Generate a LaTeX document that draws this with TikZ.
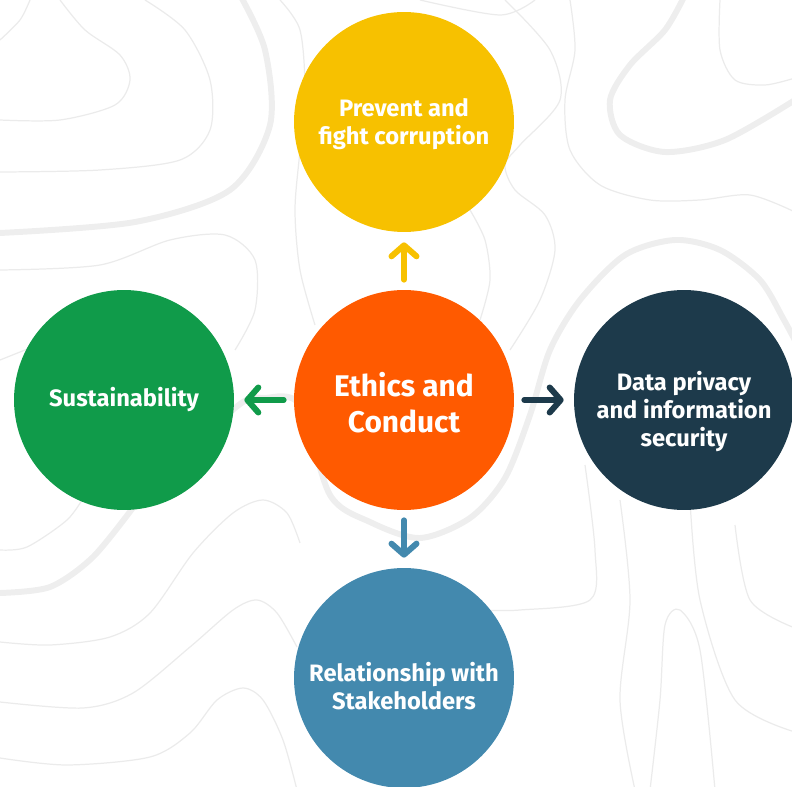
\documentclass[tikz,border=0pt]{standalone}
\usepackage{fontspec}
\setmainfont{Fira Sans}
\usetikzlibrary{arrows.meta}
\definecolor{ethOrange}{HTML}{FF5A00}
\definecolor{ethYellow}{HTML}{F7C100}
\definecolor{ethGreen}{HTML}{109B4A}
\definecolor{ethNavy}{HTML}{1D3A4B}
\definecolor{ethBlue}{HTML}{4389AE}
\definecolor{lineGrey}{HTML}{EBEBEB}
\definecolor{ridgeGrey}{HTML}{EEEEEE}
% centred lines with extra room on top, so they sit a little low in the circle
\newcommand\sunk[2]{\raisebox{0pt}[\dimexpr\height+#1\relax][\depth]{\begin{tabular}{@{}c@{}}#2\end{tabular}}}

\begin{document}
\begin{tikzpicture}[x=0.02cm,y=-0.02cm,
  topic/.style={circle,minimum size=4.4cm,inner sep=0pt,text=white,align=center,
    font=\bfseries\fontsize{13.5}{16}\selectfont},
  link/.style={line width=3.4pt,line cap=round,
    -{Straight Barb[round,length=2.2mm,width=5mm]},
    shorten <=0.2cm,shorten >=0.2cm},
  contour/.style={draw=lineGrey,line width=0.7pt},
  ridge/.style={draw=ridgeGrey,line width=3.4pt}
]
  \useasboundingbox (0,0) rectangle (792,787);
  \clip (0,0) rectangle (792,787);

  % background contour lines
  \draw[contour] plot[smooth] coordinates {(0,40) (20,20) (30,0)};
  \draw[contour] plot[smooth] coordinates {(60,0) (85,30) (120,55) (130,80) (115,105) (60,120) (0,120)};
  \draw[contour] plot[smooth] coordinates {(145,0) (185,30) (210,80) (210,130) (180,160) (100,170) (0,172)};
  \draw[ridge] plot[smooth] coordinates {(240,-5) (265,50) (270,125) (230,190) (135,222) (0,233)};
  \draw[contour] plot[smooth] coordinates {(0,270) (100,265) (170,240) (225,235) (255,260) (255,310) (235,350)};
  \draw[contour] plot[smooth] coordinates {(0,360) (30,348)};
  \draw[contour] plot[smooth] coordinates {(0,550) (27,547) (67,520) (85,495)};
  \draw[ridge] plot[smooth] coordinates {(0,593) (50,587) (93,557) (135,505)};
  \draw[contour] plot[smooth] coordinates {(0,642) (50,645) (110,637) (150,613) (193,553) (233,513) (263,500) (287,513) (300,543)};
  \draw[contour] plot[smooth] coordinates {(0,702) (83,708) (133,693) (190,647) (233,610) (257,600) (277,613) (297,647)};
  \draw[contour] plot[smooth] coordinates {(0,758) (67,765) (150,757) (190,733) (217,700) (243,688) (263,700) (283,740) (297,790)};
  \draw[contour] plot[smooth] coordinates {(280,0) (300,30) (305,90) (300,150) (295,210) (300,270) (315,325)};
  \draw[contour] plot[smooth] coordinates {(420,0) (500,15) (535,0)};
  \draw[contour] plot[smooth] coordinates {(505,0) (550,50) (560,100) (520,145) (505,165) (515,190) (545,215) (555,250) (540,300) (510,350)};
  \draw[contour] plot[smooth] coordinates {(470,210) (485,240) (490,280) (480,320)};
  \draw[contour] plot[smooth] coordinates {(570,0) (575,50) (565,100) (570,150) (600,185) (650,200) (700,200) (750,195) (795,212)};
  \draw[contour] plot[smooth] coordinates {(720,0) (720,50) (735,80) (765,85) (795,78)};
  \draw[ridge] plot[smooth] coordinates {(685,-5) (665,30) (630,65) (610,100) (620,135) (665,152) (725,140) (795,100)};
  \draw[ridge] plot[smooth] coordinates {(135,505) (235,408) (265,398) (300,405)
    (330,495) (370,522) (420,538) (470,518) (505,478) (530,415) (550,350) (580,300)
    (625,255) (675,240) (720,250) (760,280) (784,320) (800,350)};
  \draw[contour] plot[smooth] coordinates {(585,465) (595,550) (590,600) (520,610) (480,610)};
  \draw[contour] plot[smooth] coordinates {(620,500) (630,600) (620,700) (635,790)};
  \draw[contour] plot[smooth] coordinates {(650,790) (660,700) (665,625) (680,610) (700,650) (715,790)};
  \draw[contour] plot[smooth] coordinates {(690,500) (700,600) (735,700) (795,732)};
  \draw[contour] plot[smooth] coordinates {(735,525) (750,600) (795,628)};

  % topic circles
  \node[topic,fill=ethOrange,font=\bfseries\fontsize{17}{20}\selectfont] (hub) at (404,400) {\sunk{8.5pt}{Ethics and\\Conduct}};
  \node[topic,fill=ethYellow] (prev) at (404,122) {\sunk{3.4pt}{Prevent and\\fight corruption}};
  \node[topic,fill=ethGreen] (sust) at (124,400) {Sustainability};
  \node[topic,fill=ethNavy] (data) at (684,400) {\sunk{14.7pt}{Data privacy\\and information\\security}};
  \node[topic,fill=ethBlue] (rel) at (404,678) {\sunk{13.6pt}{Relationship with\\Stakeholders}};

  % arrows out of the hub
  \draw[link,ethYellow] (hub) -- (prev);
  \draw[link,ethGreen] (hub) -- (sust);
  \draw[link,ethNavy] (hub) -- (data);
  \draw[link,ethBlue] (hub) -- (rel);
\end{tikzpicture}
\end{document}
